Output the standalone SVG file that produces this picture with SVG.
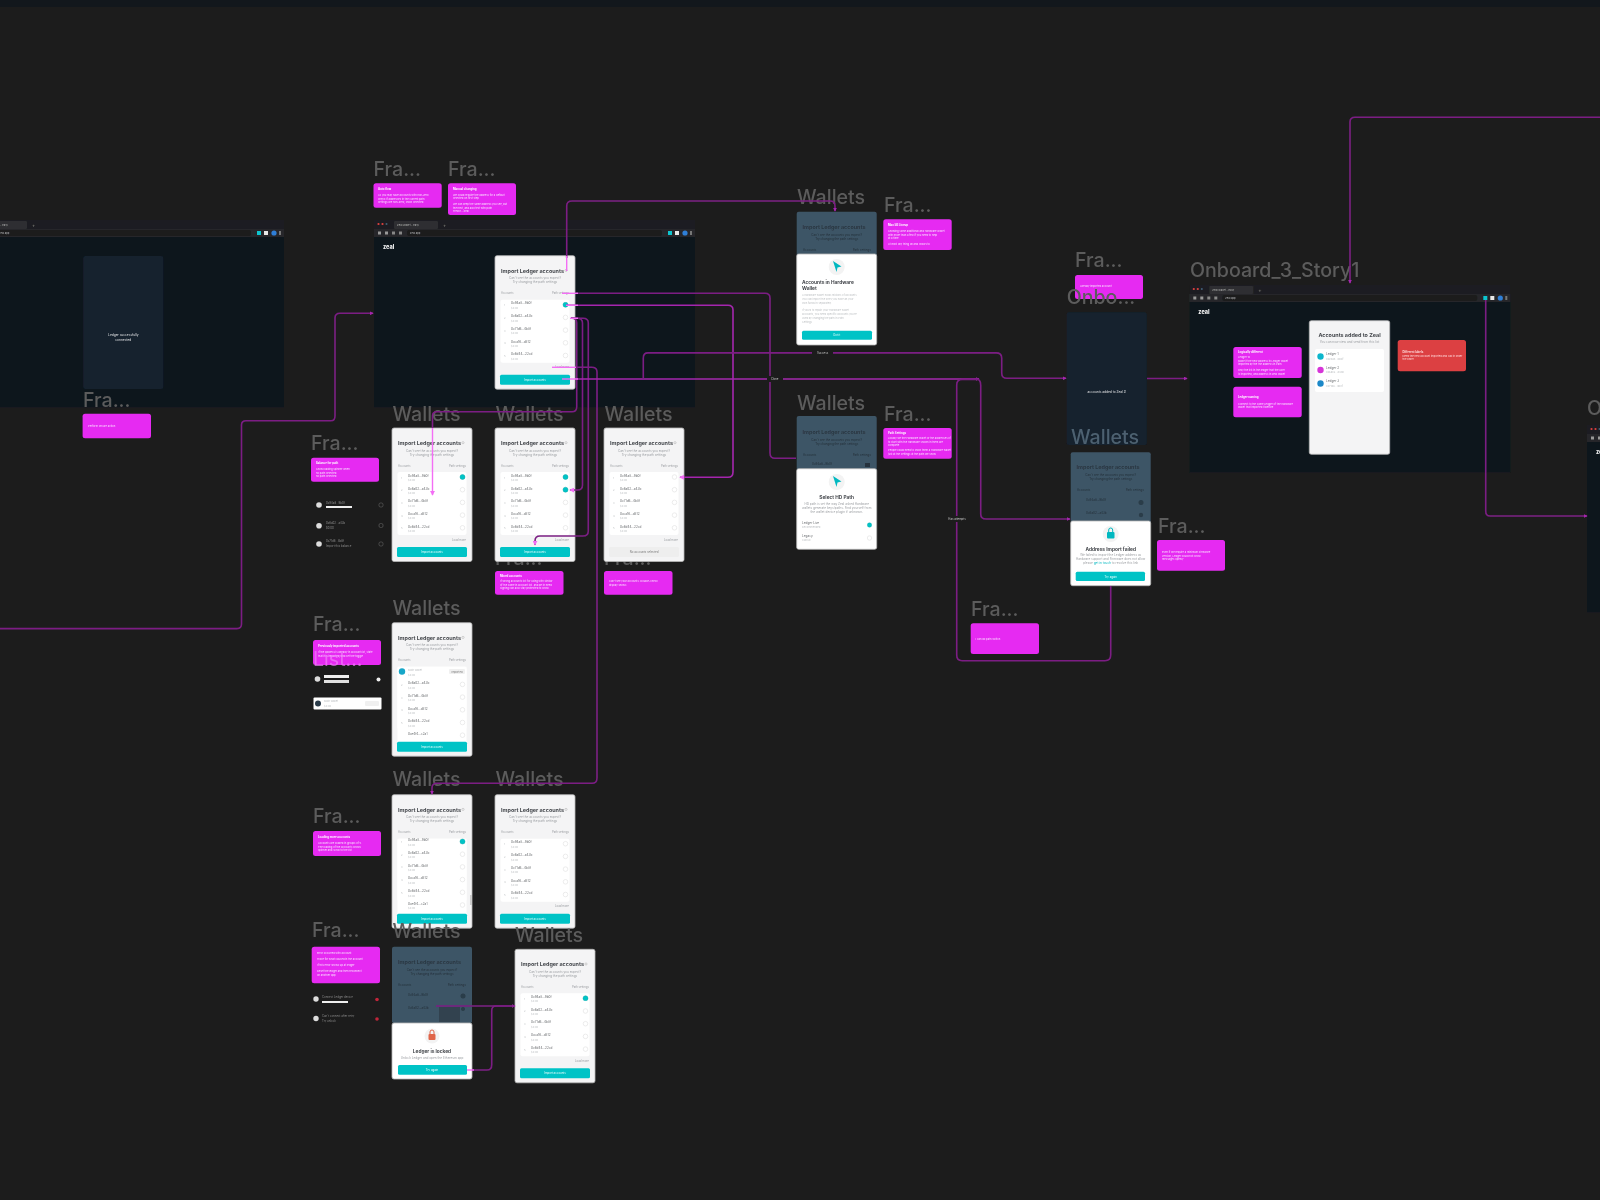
<svg xmlns="http://www.w3.org/2000/svg" xmlns:xlink="http://www.w3.org/1999/xlink" width="1600" height="1200" viewBox="0 0 1600 1200">
<style>
text{font-family:Inter,"Liberation Sans",sans-serif}
.lbl{font-size:19.600px;fill:#5c5c5c;font-weight:500}
.pk{fill:#e62cf2}
.pt{font-size:2.8px;fill:#fff;font-weight:700}
.ps{font-size:2.6px;fill:#fbe0ff}
.ct{font-size:5.4px;font-weight:700;fill:#45484d;text-anchor:middle}
.cs{font-size:3.1px;fill:#9a9da1;text-anchor:middle}
.cl{font-size:2.8px;fill:#9a9da1}
.rn{font-size:3.1px;fill:#6a6d70}
.rs{font-size:2.6px;fill:#bdc0c3}
.btn{fill:#00c3c6}
.bt{font-size:2.8px;fill:#e9ffff;text-anchor:middle}
.tg{fill:#fff;stroke:#e4e4e4;stroke-width:.7}
.on{fill:#00c3c6;stroke:#0aa;stroke-width:.4}
.ov{fill:#3e5566}
.ot{font-size:5.4px;font-weight:700;fill:#2a3843;text-anchor:middle}
.os{font-size:3px;fill:#22303a;text-anchor:middle}
.c{fill:none;stroke:#7c1f84;stroke-width:1.6}
.m{fill:none;stroke:#a527ae;stroke-width:1.6}
.h{fill:none;stroke:#f36ef5;stroke-width:1.4}
.cg{font-size:2.8px;fill:#c9c9c9;text-anchor:middle}
.side{font-size:2.8px;fill:#8a8a8a}
.body{fill:#0e171e}
.pan{fill:#14212e}
</style>
<defs>
<filter id="soft" x="0" y="0" width="1600" height="1200" filterUnits="userSpaceOnUse"><feGaussianBlur stdDeviation="0.55"/></filter>
<marker id="a" viewBox="0 0 6 6" refX="5" refY="3" markerWidth="4" markerHeight="4" orient="auto" markerUnits="userSpaceOnUse"><path d="M0 0L6 3L0 6z" fill="#a527ae"/></marker>
<marker id="b" viewBox="0 0 6 6" refX="5" refY="3" markerWidth="5" markerHeight="5" orient="auto" markerUnits="userSpaceOnUse"><path d="M0 0L6 3L0 6z" fill="#f36ef5"/></marker>
<g id="browser">
<rect width="321" height="9" fill="#1f1f20"/>
<circle cx="4.5" cy="4" r="1.1" fill="#e04040"/><circle cx="8.5" cy="4" r="1.1" fill="#e04040"/><circle cx="12.5" cy="4" r="1" fill="#40607a"/>
<rect x="20" y="1" width="44" height="8" rx="1" fill="#2d2e30"/>
<text x="23" y="6" font-size="2.6" fill="#bbb">Zeal Wallet - Easy</text>
<text x="69" y="7" font-size="5" fill="#888">+</text>
<rect y="9" width="321" height="8" fill="#26272a"/>
<rect x="33" y="10" width="255" height="6" rx="2" fill="#1b1c1e"/>
<rect x="4" y="11.5" width="3" height="3" fill="#999"/><rect x="11" y="11.5" width="3" height="3" fill="#999"/><rect x="18" y="11.5" width="3" height="3" fill="#888"/><rect x="25" y="11.5" width="3" height="3" fill="#888"/>
<text x="36" y="14.2" font-size="2.6" fill="#bbb">zeal.app</text>
<rect x="294" y="11" width="4" height="4" fill="#08c5cf"/><rect x="301" y="11" width="4" height="4" fill="#e8e8e8"/><circle cx="311" cy="13" r="2.6" fill="#2f7fd8"/><rect x="316" y="11" width="2" height="4" fill="#777"/>
<rect y="17" width="321" height="170.500" class="body"/>
<text x="9" y="29" font-size="5.500" font-weight="800" fill="#f2f2f2">zeal</text>
</g>
<g id="cardbase">
<rect width="80" height="133.500" rx="2" fill="#f4f4f5" stroke="#b8b8b8" stroke-width=".8"/>
<text x="37.500" y="17" class="ct">Import Ledger accounts</text>
<circle cx="71" cy="14.700" r="1.100" fill="none" stroke="#aaa" stroke-width=".5"/>
<text x="40" y="23.500" class="cs">Can't see the accounts you expect?</text>
<text x="40" y="27.500" class="cs">Try changing the path settings</text>
<text x="6" y="38.800" class="cl">Accounts</text>
<text x="74" y="38.800" class="cl" text-anchor="end">Path settings</text>
<rect x="5.500" y="44" width="69" height="63" rx="2" fill="#fff"/>
</g>
<g id="rows5">
<text x="9" y="50.500" class="rs">1</text><text x="16" y="48.800" class="rn">0x94a8...9b0f</text><text x="16" y="53.200" class="rs">$0.00</text>
<text x="9" y="63.200" class="rs">2</text><text x="16" y="61.500" class="rn">0x6a02...a43b</text><text x="16" y="65.900" class="rs">$0.00</text>
<text x="9" y="75.900" class="rs">3</text><text x="16" y="74.200" class="rn">0x71d6...4b8f</text><text x="16" y="78.600" class="rs">$0.00</text>
<text x="9" y="88.600" class="rs">4</text><text x="16" y="86.900" class="rn">0xca16...d812</text><text x="16" y="91.300" class="rs">$0.00</text>
<text x="9" y="101.300" class="rs">5</text><text x="16" y="99.600" class="rn">0x6d44...22cd</text><text x="16" y="104" class="rs">$0.00</text>
</g>
<g id="tg5">
<circle cx="70.500" cy="49" r="2.300" class="tg"/><circle cx="70.500" cy="61.700" r="2.300" class="tg"/><circle cx="70.500" cy="74.400" r="2.300" class="tg"/><circle cx="70.500" cy="87.100" r="2.300" class="tg"/><circle cx="70.500" cy="99.800" r="2.300" class="tg"/>
</g>
<g id="more"><text x="74" y="112.500" class="cl" text-anchor="end">Load more</text></g>
<g id="cta"><rect x="5" y="119" width="70" height="10" rx="1.500" class="btn"/><text x="40" y="125" class="bt">Import accounts</text></g>
<g id="fullcard"><use href="#cardbase"/><use href="#rows5"/><use href="#tg5"/><use href="#more"/><use href="#cta"/></g>
</defs>
<rect width="1600" height="1200" fill="#1c1c1c"/>
<rect width="1600" height="7" fill="#12171c"/>
<g filter="url(#soft)">

<g id="browser-left"><use href="#browser" x="-37" y="220"/>
<rect x="83.300" y="256" width="80" height="133" rx="2" class="pan"/>
<text x="123.300" y="336" font-size="3.200" fill="#e8e8e8" text-anchor="middle">Ledger successfully</text>
<text x="123.300" y="340.500" font-size="3.200" fill="#e8e8e8" text-anchor="middle">connected</text>
</g>
<g id="frame-left-note"><text x="83" y="407" class="lbl">Fra...</text>
<rect x="82.600" y="413.700" width="68.400" height="24.500" rx="2.500" class="pk"/>
<text x="88" y="427" class="ps">Perform secure action</text></g>

<g id="browser-main"><use href="#browser" x="374" y="220"/></g>
<g id="note-a"><text x="373.500" y="176" class="lbl">Fra...</text>
<rect x="373.500" y="183.300" width="68.200" height="24.500" rx="2.500" class="pk"/>
<text x="378" y="190" class="pt">Auto flow</text><text x="378" y="196" class="ps">As you may have accounts with non-zero</text><text x="378" y="199.500" class="ps">check if addresses in the current path</text><text x="378" y="203" class="ps">settings are non-zero, show selected</text></g>
<g id="note-b"><text x="448" y="176" class="lbl">Fra...</text>
<rect x="448" y="183.300" width="68" height="31.700" rx="2.500" class="pk"/>
<text x="453" y="190" class="pt">Manual changing</text><text x="453" y="195.500" class="ps">We could require the address for a default</text><text x="453" y="199" class="ps">selected on first step</text><text x="453" y="205" class="ps">We can keep the same address you see, but</text><text x="453" y="208.500" class="ps">the next, and also test with path</text><text x="453" y="212" class="ps">Trezor - Zeal</text></g>
<g id="card-main"><use href="#fullcard" x="495" y="255.700"/><circle cx="565.500" cy="304.700" r="2.500" class="on"/></g>

<g id="note-c"><text x="311" y="450" class="lbl">Fra...</text>
<rect x="311" y="457.700" width="68" height="24" rx="2.500" class="pk"/>
<text x="316" y="464" class="pt">Balance for path</text><text x="316" y="470" class="ps">Show loading spinner when</text><text x="316" y="473.500" class="ps">no path selected</text><text x="316" y="477" class="ps">no path selected</text></g>
<g id="list-a">
<circle cx="319" cy="505" r="2.800" fill="#ddd"/><text x="326" y="503.500" class="side">0x94a8...9b0f</text><rect x="326" y="506" width="26" height="2" fill="#eee"/><rect x="379" y="503" width="4" height="4" rx="1.500" fill="none" stroke="#555" stroke-width=".8"/>
<circle cx="319" cy="525.700" r="2.800" fill="#ddd"/><text x="326" y="524" class="side">0x6a02...a43b</text><text x="326" y="528.500" class="side">$0.00</text><rect x="379" y="523.500" width="4" height="4" rx="1.500" fill="none" stroke="#555" stroke-width=".8"/>
<circle cx="319" cy="544" r="2.800" fill="#ddd"/><text x="326" y="542.300" class="side">0x71d6...4b8f</text><text x="326" y="546.800" class="side">Import this balance</text><rect x="379" y="542" width="4" height="4" rx="1.500" fill="none" stroke="#555" stroke-width=".8"/>
</g>

<g id="card-w1"><text x="392.500" y="420.600" class="lbl">Wallets</text><use href="#fullcard" x="392" y="428"/><circle cx="462.500" cy="477" r="2.500" class="on"/></g>
<g id="note-d"><text x="495" y="565" class="lbl">Fra...</text></g>
<g id="card-w2"><text x="495.500" y="420.600" class="lbl">Wallets</text><use href="#fullcard" x="495" y="428"/><circle cx="565.500" cy="477" r="2.500" class="on"/><circle cx="565.500" cy="489.700" r="2.500" class="on"/>
<rect x="495" y="571" width="68.500" height="23.700" rx="2.500" class="pk"/>
<text x="500" y="577" class="pt">Mixed accounts</text><text x="500" y="582" class="ps">If wrong accounts list for using with similar</text><text x="500" y="585.500" class="ps">of the same in account list. and be in need</text><text x="500" y="589" class="ps">signing can also stay protected to show.</text></g>
<g id="note-e"><text x="604" y="565" class="lbl">Fra...</text></g>
<g id="card-w3"><text x="604.500" y="420.600" class="lbl">Wallets</text><use href="#cardbase" x="604" y="428"/><use href="#rows5" x="604" y="428"/><use href="#tg5" x="604" y="428"/><use href="#more" x="604" y="428"/>
<rect x="609" y="547" width="70" height="10" rx="1.500" fill="#eeeeee"/><text x="644" y="553" font-size="2.800" fill="#777" text-anchor="middle">No accounts selected</text>
<rect x="604" y="571" width="68.500" height="23.700" rx="2.500" class="pk"/>
<text x="609" y="582" class="ps">Can't see your accounts. Double-check</text><text x="609" y="585.500" class="ps">display shows</text></g>

<g id="note-f"><text x="313" y="631" class="lbl">Fra...</text>
<rect x="313" y="640" width="68" height="25" rx="2.500" class="pk"/>
<text x="318" y="647" class="pt">Previously imported accounts</text><text x="318" y="653" class="ps">If the address is already in account list, state</text><text x="318" y="656.500" class="ps">that it is imported, and set the toggle</text>
<text x="313" y="666" font-size="19.600" fill="#f07ff8" opacity=".7">List...</text>
<circle cx="317.500" cy="679" r="2.800" fill="#ddd"/><rect x="324" y="675" width="25" height="3" fill="#f0f0f0"/><rect x="324" y="680" width="25" height="3" fill="#e0e0e0"/><circle cx="378.500" cy="679.500" r="2" fill="#eee"/>
<rect x="313.500" y="697.500" width="68" height="12" rx="1" fill="#fff"/><circle cx="318" cy="703.500" r="3" fill="#2b3a48"/><text x="324" y="702" class="rs">Main Wallet</text><text x="324" y="706.500" class="rs">$0.00</text><rect x="365" y="701" width="14" height="5" rx="1" fill="#f0f0f0"/></g>
<g id="card-w4"><text x="392.500" y="615" class="lbl">Wallets</text><use href="#cardbase" x="392" y="622.700"/>
<rect x="397.500" y="666.700" width="69" height="76" fill="#fff"/>
<circle cx="402" cy="671.500" r="3.200" fill="#17a6c8"/><text x="408" y="671" class="rs">Main Wallet</text><text x="408" y="675.500" class="rs">$0.00</text><rect x="449" y="669" width="16" height="5" rx="1" fill="#f0f0f0"/><text x="457" y="672.500" font-size="2.600" fill="#777" text-anchor="middle">Imported</text>
<g transform="translate(392,622.700)"><text x="9" y="63.200" class="rs">2</text><text x="16" y="61.500" class="rn">0x6a02...a43b</text><text x="16" y="65.900" class="rs">$0.00</text><text x="9" y="75.900" class="rs">3</text><text x="16" y="74.200" class="rn">0x71d6...4b8f</text><text x="16" y="78.600" class="rs">$0.00</text><text x="9" y="88.600" class="rs">4</text><text x="16" y="86.900" class="rn">0xca16...d812</text><text x="16" y="91.300" class="rs">$0.00</text><text x="9" y="101.300" class="rs">5</text><text x="16" y="99.600" class="rn">0x6d44...22cd</text><text x="16" y="104" class="rs">$0.00</text><text x="16" y="112.300" class="rn">0xe4f4...c2a1</text><circle cx="70.500" cy="61.700" r="2.300" class="tg"/><circle cx="70.500" cy="74.400" r="2.300" class="tg"/><circle cx="70.500" cy="87.100" r="2.300" class="tg"/><circle cx="70.500" cy="99.800" r="2.300" class="tg"/><circle cx="70.500" cy="112.500" r="2.300" class="tg"/></g>
<use href="#cta" x="392" y="622.700"/></g>

<g id="note-g"><text x="313" y="822.700" class="lbl">Fra...</text>
<rect x="313" y="831" width="68" height="25" rx="2.500" class="pk"/>
<text x="318" y="838" class="pt">Loading more accounts</text><text x="318" y="844" class="ps">Accounts are loaded in groups of 5.</text><text x="318" y="847.500" class="ps">The loading of the accounts shows</text><text x="318" y="851" class="ps">spinner and scroll to the list</text></g>
<g id="card-w5"><text x="392.500" y="785.700" class="lbl">Wallets</text><use href="#cardbase" x="392" y="794.700"/>
<rect x="397.500" y="838.700" width="69" height="76" fill="#fff"/>
<g transform="translate(392,792.500)"><use href="#rows5"/><use href="#tg5"/><text x="16" y="112.300" class="rn">0xe4f4...c2a1</text><text x="16" y="116.500" class="rs">$0.00</text><circle cx="70.500" cy="112.500" r="2.300" class="tg"/></g>
<circle cx="462.500" cy="841.500" r="2.500" class="on"/><rect x="470" y="895" width="2" height="10" fill="#ccc"/>
<use href="#cta" x="392" y="794.700"/></g>
<g id="card-w6"><text x="495.500" y="785.700" class="lbl">Wallets</text><use href="#fullcard" x="495" y="794.700"/></g>

<g id="note-h"><text x="312" y="937" class="lbl">Fra...</text>
<rect x="311.700" y="946.700" width="68.300" height="36.600" rx="2.500" class="pk"/>
<text x="317" y="954" class="ps">Error occurred with account</text><text x="317" y="960" class="ps">Trace for what caused in the account</text><text x="317" y="966" class="ps">If this error shows up at ledger</text><text x="317" y="972" class="ps">Reset the ledger and then reconnect</text><text x="317" y="976" class="ps">on another app</text>
<circle cx="316" cy="999" r="2.700" fill="#ddd"/><text x="322" y="997.500" class="side">Connect Ledger device</text><rect x="322" y="1001" width="26" height="2" fill="#eee"/><circle cx="377" cy="999.500" r="1.800" fill="#c0283a"/>
<circle cx="316" cy="1018.500" r="2.700" fill="#ddd"/><text x="322" y="1017" class="side">Can't connect after retry</text><text x="322" y="1022" class="side">Try unlock</text><circle cx="377" cy="1019" r="1.800" fill="#c0283a"/></g>
<g id="card-locked"><text x="392.500" y="938" class="lbl">Wallets</text>
<rect x="392" y="946.700" width="80" height="76.500" rx="2" class="ov"/>
<text x="429.500" y="964" class="ot">Import Ledger accounts</text>
<text x="432" y="971" class="os">Can't see the accounts you expect?</text><text x="432" y="975" class="os">Try changing the path settings</text>
<text x="398" y="986" class="os" style="text-anchor:start">Accounts</text>
<text x="466" y="986" class="os" style="text-anchor:end">Path settings</text>
<text x="408" y="996" class="os" style="text-anchor:start">0x94a8...9b0f</text><circle cx="463" cy="996" r="2.500" fill="#2a3c49"/>
<text x="408" y="1009" class="os" style="text-anchor:start">0x6a02...a43b</text><circle cx="463" cy="1009" r="2" fill="#2a3c49"/>
<rect x="439" y="1007" width="21" height="15" fill="#33434f"/>
<rect x="392" y="1023" width="80" height="56" rx="2" fill="#fff" stroke="#b8b8b8" stroke-width=".8"/>
<circle cx="432" cy="1036" r="7.500" fill="#f3f3f3"/><rect x="428.500" y="1034" width="7" height="6" rx="1" fill="#e0654a"/><path d="M430 1034v-2a2 2 0 0 1 4 0v2" fill="none" stroke="#e0654a"/>
<text x="432" y="1053" font-size="4.800" font-weight="700" fill="#45484d" text-anchor="middle">Ledger is locked</text>
<text x="432" y="1058.500" class="cs">Unlock Ledger and open the Ethereum app</text>
<rect x="398" y="1065" width="69" height="9.700" rx="1.500" class="btn"/><text x="432" y="1071" class="bt">Try again</text></g>
<g id="card-w7"><text x="515" y="941.700" class="lbl">Wallets</text><use href="#fullcard" x="515" y="949.300"/><circle cx="585.500" cy="998.300" r="2.500" class="on"/></g>

<g id="card-hw"><text x="797" y="204" class="lbl">Wallets</text>
<rect x="796.700" y="211.700" width="80" height="45" rx="2" class="ov"/>
<text x="834" y="229" class="ot">Import Ledger accounts</text>
<text x="836.700" y="236" class="os">Can't see the accounts you expect?</text><text x="836.700" y="240" class="os">Try changing the path settings</text>
<text x="803" y="251" class="os" style="text-anchor:start">Accounts</text><text x="871" y="251" class="os" style="text-anchor:end">Path settings</text>
<rect x="796.700" y="254" width="80" height="91" rx="2" fill="#fff" stroke="#b8b8b8" stroke-width=".8"/>
<circle cx="836.700" cy="267" r="8" fill="#f3f3f3"/><path d="M833 261l8.500 5.500-4 1-1 4.500z" fill="#00b8c0"/>
<text x="802" y="284" font-size="4.800" font-weight="700" fill="#45484d">Accounts in Hardware</text>
<text x="802" y="290" font-size="4.800" font-weight="700" fill="#45484d">Wallet</text>
<text x="802" y="296" class="rs">A hardware wallet holds millions of accounts.</text><text x="802" y="300" class="rs">You can import the ones you have an your</text><text x="802" y="304" class="rs">own funds in separately.</text>
<text x="802" y="311" class="rs">If you'd to repair your Hardware wallet</text><text x="802" y="315" class="rs">accounts, you need specific accounts you're</text><text x="802" y="319" class="rs">used by changing the path in Path</text><text x="802" y="323" class="rs">Settings</text>
<rect x="802" y="330.700" width="70" height="9" rx="1.500" class="btn"/><text x="836.700" y="336.200" class="bt">Got it</text></g>
<g id="note-hw"><text x="884" y="211.700" class="lbl">Fra...</text>
<rect x="883.300" y="219.300" width="68.400" height="30.700" rx="2.500" class="pk"/>
<text x="888" y="226" class="pt">Max 50 Lineup</text><text x="888" y="232" class="ps">Showing some additional and Hardware wallet</text><text x="888" y="235.500" class="ps">with more than a few if you need to help</text><text x="888" y="239" class="ps">at a time</text><text x="888" y="244.500" class="ps">At least any thing an and shows to</text></g>
<g id="card-hd"><text x="797" y="410" class="lbl">Wallets</text>
<rect x="796.700" y="416" width="80" height="55" rx="2" class="ov"/>
<text x="834" y="434" class="ot">Import Ledger accounts</text>
<text x="836.700" y="441" class="os">Can't see the accounts you expect?</text><text x="836.700" y="445" class="os">Try changing the path settings</text>
<text x="803" y="456" class="os" style="text-anchor:start">Accounts</text><text x="871" y="456" class="os" style="text-anchor:end">Path settings</text>
<text x="812" y="465" class="os" style="text-anchor:start">0x94a8...9b0f</text><rect x="865" y="463" width="5" height="4" fill="#25333d"/>
<rect x="796.700" y="468.700" width="80" height="80.600" rx="2" fill="#fff" stroke="#b8b8b8" stroke-width=".8"/>
<circle cx="836.700" cy="482" r="8" fill="#f3f3f3"/><path d="M833 476l8.500 5.500-4 1-1 4.500z" fill="#00b8c0"/>
<text x="836.700" y="499" font-size="4.800" font-weight="700" fill="#45484d" text-anchor="middle">Select HD Path</text>
<text x="836.700" y="504.500" class="cs">HD path is set the way Zeal asked Hardware</text><text x="836.700" y="508.500" class="cs">wallets generate keys/paths. Find yourself from</text><text x="836.700" y="512.500" class="cs">the wallet device plugin if unknown.</text>
<text x="802" y="524" class="rn">Ledger Live</text><text x="802" y="528" class="rs">Recommended</text><circle cx="869.500" cy="525" r="2.200" class="on"/>
<text x="802" y="537" class="rn">Legacy</text><text x="802" y="541" class="rs">Classic</text><circle cx="869.500" cy="538" r="2.200" class="tg"/></g>
<g id="note-hd"><text x="884" y="420.700" class="lbl">Fra...</text>
<rect x="883.300" y="428" width="68.400" height="30.700" rx="2.500" class="pk"/>
<text x="888" y="434" class="pt">Path Settings</text><text x="888" y="439" class="ps">Locally we the Hardware wallet or the addresses of</text><text x="888" y="442.500" class="ps">to start with the Hardware shown in them are</text><text x="888" y="446" class="ps">complete</text><text x="888" y="451" class="ps">People could need to show them a Hardware wallet</text><text x="888" y="454.500" class="ps">just at the settings at the path we show</text></g>

<g id="note-top"><text x="1075" y="267" class="lbl">Fra...</text>
<rect x="1075" y="275" width="68" height="24" rx="2.500" class="pk"/><text x="1080" y="287" class="ps">Already imported account</text></g>
<g id="panel-added"><text x="1066.700" y="304" class="lbl">Onbo...</text>
<rect x="1066.700" y="312.300" width="80" height="132.700" rx="2" class="pan"/>
<text x="1106.700" y="392.500" font-size="3.200" fill="#e8e8e8" text-anchor="middle">accounts added to Zeal #</text></g>
<g id="card-failed"><text x="1071" y="444.300" class="lbl" style="fill:#4d6170">Wallets</text>
<rect x="1070.700" y="452.300" width="80" height="71" rx="2" class="ov"/>
<text x="1108" y="469" class="ot">Import Ledger accounts</text>
<text x="1110.700" y="476" class="os">Can't see the accounts you expect?</text><text x="1110.700" y="480" class="os">Try changing the path settings</text>
<text x="1077" y="490.500" class="os" style="text-anchor:start">Accounts</text><text x="1144" y="490.500" class="os" style="text-anchor:end">Path settings</text>
<text x="1086" y="501" class="os" style="text-anchor:start">0x94a8...9b0f</text><circle cx="1141" cy="502.500" r="2.500" fill="#2a3c49"/>
<text x="1086" y="514" class="os" style="text-anchor:start">0x6a02...a43b</text><circle cx="1141" cy="515" r="2.200" fill="#2a3c49"/>
<rect x="1070.700" y="521" width="80" height="64.700" rx="2" fill="#fff" stroke="#b8b8b8" stroke-width=".8"/>
<circle cx="1110.700" cy="534" r="8" fill="#f3f3f3"/><rect x="1107" y="532" width="7.500" height="6.500" rx="1" fill="#00b8c0"/><path d="M1108.700 532v-2a2 2 0 0 1 4 0v2" fill="none" stroke="#00b8c0"/>
<text x="1110.700" y="550.500" font-size="4.800" font-weight="700" fill="#45484d" text-anchor="middle">Address Import failed</text>
<text x="1110.700" y="556" class="cs">We failed to import the Ledger address as</text><text x="1110.700" y="560" class="cs">Hardware support and Firmware does not allow</text><text x="1110.700" y="564" class="cs">please <tspan fill="#00b8c0">get in touch</tspan> to resolve this link</text>
<rect x="1075.700" y="571.700" width="69.300" height="9.300" rx="1.500" class="btn"/><text x="1110.700" y="577.500" class="bt">Try again</text></g>
<g id="note-failed"><text x="1158" y="532.700" class="lbl">Fra...</text>
<rect x="1157" y="540" width="68" height="30.700" rx="2.500" class="pk"/>
<text x="1162" y="553" class="ps">Even if we require a minimum Firmware</text><text x="1162" y="556.500" class="ps">version, Ledger could not show</text><text x="1162" y="560" class="ps">messages openly</text></g>
<g id="note-bottom"><text x="971" y="615.700" class="lbl">Fra...</text>
<rect x="970.700" y="623.300" width="68.300" height="30.700" rx="2.500" class="pk"/><text x="975.500" y="639.500" class="ps">I can do path switch</text></g>

<g id="browser-right"><text x="1190" y="276.700" class="lbl">Onboard_3_Story1</text><use href="#browser" x="1189.300" y="285"/>
<rect x="1309.300" y="320.700" width="80.400" height="133.600" rx="2" fill="#f4f4f5" stroke="#b8b8b8" stroke-width=".8"/>
<text x="1349.500" y="337" class="ct">Accounts added to Zeal</text>
<text x="1349.500" y="343" class="cs">You can now view and send from this list</text>
<rect x="1315" y="349" width="69" height="43" rx="2" fill="#fff"/>
<circle cx="1320.500" cy="356.500" r="3.200" fill="#0fb6cc"/><text x="1326" y="355" class="rn">Ledger 1</text><text x="1326" y="359.500" class="rs">0x94a8...9b0f</text>
<circle cx="1320.500" cy="370" r="3.200" fill="#d635d8"/><text x="1326" y="368.500" class="rn">Ledger 2</text><text x="1326" y="373" class="rs">0x6a02...a43b</text>
<circle cx="1320.500" cy="383.500" r="3.200" fill="#1e88c8"/><text x="1326" y="382" class="rn">Ledger 3</text><text x="1326" y="386.500" class="rs">0x71d6...4b8f</text>
<rect x="1233.300" y="347" width="68.400" height="31" rx="2.500" class="pk"/>
<text x="1238" y="352.500" class="pt">Logically different</text><text x="1238" y="358" class="ps">Ledger 10</text><text x="1238" y="361.500" class="ps">Make it the new address in Ledger wallet</text><text x="1238" y="365" class="ps">imported by the the address in Path</text><text x="1238" y="371" class="ps">Only the list in the ledger that the user</text><text x="1238" y="374.500" class="ps">is imported, and address in Zeal wallet</text>
<rect x="1233.300" y="386.700" width="68.400" height="30.600" rx="2.500" class="pk"/>
<text x="1238" y="398" class="pt">Ledger naming</text><text x="1238" y="404.500" class="ps">Connect to the same Ledger of the hardware</text><text x="1238" y="408" class="ps">wallet that imported it before</text>
<rect x="1397.700" y="340" width="68.300" height="31.300" rx="2.500" fill="#dc4043"/>
<text x="1402.500" y="353" class="pt" style="fill:#ffd9d9">Different labels</text><text x="1402.500" y="356.500" class="ps" style="fill:#ffd9d9">Need the new account imported and call in order</text><text x="1402.500" y="360" class="ps" style="fill:#ffd9d9">the order</text></g>

<g id="browser-far-right"><text x="1587" y="415" class="lbl">O</text><use href="#browser" x="1587" y="425"/></g>

<g id="connectors">
<path class="c" d="M0 628.600H237Q241.500 628.600 241.500 624V425Q241.500 420.700 246 420.700H331Q335 420.700 335 416V318Q335 313.300 340 313.300H373" marker-end="url(#a)"/>
<path class="c" d="M566.700 258V206Q566.700 201 572 201H830Q835 201 835 206V211" marker-end="url(#a)"/>
<path class="h" d="M566.700 271V256"/>
<path class="c" d="M575 293.300H765Q770 293.300 770 298V453Q770 458.300 775 458.300H796"/>
<path class="h" d="M562 293.300H578"/>
<path class="m" d="M566 305.300H728Q733 305.300 733 310V472Q733 477.300 728 477.300H680" marker-end="url(#b)"/>
<path class="h" d="M566 305.300H578"/>
<path class="c" d="M571 318.300H572Q576.700 318.300 576.700 323V407Q576.700 411.700 572 411.700H437Q432.500 411.700 432.500 416V428"/>
<path class="h" d="M432.500 428V495" marker-end="url(#b)"/>
<path class="c" d="M571 318.300H577Q582.500 318.300 582.500 323V485Q582.500 490 577.500 490H570" marker-end="url(#b)"/>
<path class="c" d="M571 318.300H583Q588.300 318.300 588.300 323V531Q588.300 536 583 536H540Q535 536 535 541V545" marker-end="url(#b)"/>
<path class="h" d="M570 318.300H578"/>
<path class="c" d="M575 367.300H592Q597 367.300 597 372V778Q597 783.300 592 783.300H437Q432 783.300 432 788V794" marker-end="url(#a)"/>
<path class="h" d="M552 367.300H576"/>
<path class="m" d="M575 379H979" marker-end="url(#a)"/>
<path class="h" d="M562 379H578"/>
<path class="c" d="M643.300 379V358Q643.300 352.900 648 352.900H996Q1001.700 352.900 1001.700 358V373Q1001.700 378.300 1007 378.300H1066" marker-end="url(#a)"/>
<path class="c" d="M976 379Q980.700 379 980.700 385V514Q980.700 519 986 519H1070" marker-end="url(#a)"/>
<path class="c" d="M1110.700 586V655Q1110.700 660.700 1105 660.700H962Q956.700 660.700 956.700 655V385Q956.700 379.500 962 379.500H978"/>
<path class="c" d="M1147 378.500H1187" marker-end="url(#a)"/>
<path class="c" d="M1600 117.300H1355Q1350 117.300 1350 122V283" marker-end="url(#a)"/>
<path class="c" d="M1485.700 300V511Q1485.700 516 1490 516H1587" marker-end="url(#a)"/>
<path class="c" d="M472 1070H487Q491.700 1070 491.700 1065V1011Q491.700 1006 496 1006H515" marker-end="url(#a)"/>
<path class="c" d="M436 1006H514"/>
<path class="h" d="M467 1070H474"/>
<rect x="812" y="350" width="21" height="6" fill="#1c1c1c"/><text x="822.500" y="354" class="cg">Success</text>
<rect x="767" y="376" width="16" height="6" fill="#1c1c1c"/><text x="775" y="380" class="cg">Done</text>
<rect x="944" y="516" width="26" height="6" fill="#1c1c1c"/><text x="957" y="520" class="cg">Has attempts</text>
</g>
</g>
</svg>
